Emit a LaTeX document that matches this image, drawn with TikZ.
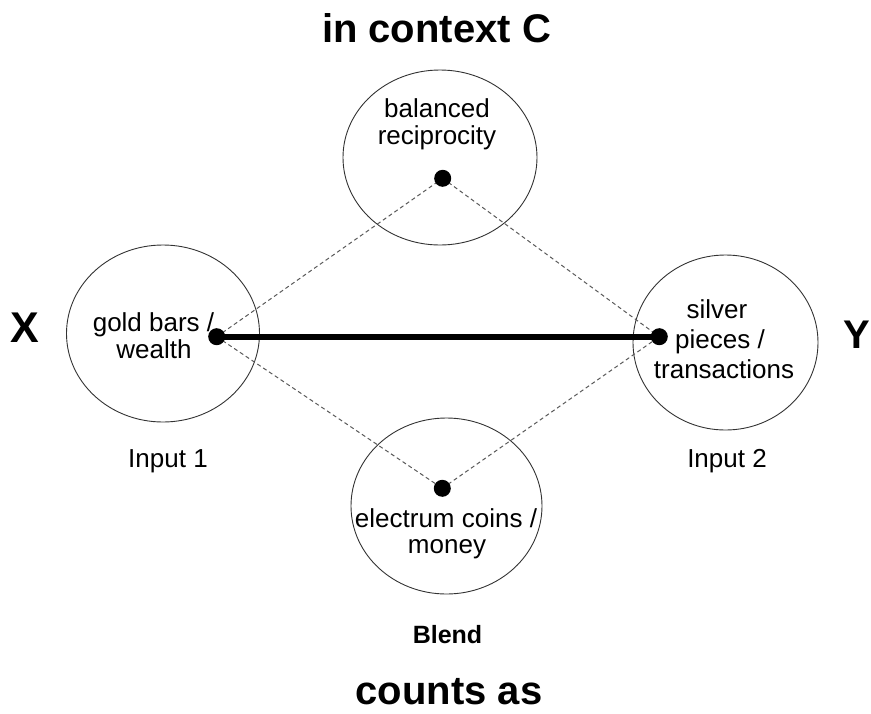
\documentclass[tikz,border=0pt]{standalone}
\usepackage{fontspec}
\setmainfont{Liberation Sans}
\usetikzlibrary{shapes.geometric}
\tikzset{
  blob/.style={draw=black!80, line width=0.9pt, ellipse, inner sep=0pt},
  dotnode/.style={circle, fill=black, minimum size=17pt, inner sep=0pt},
  boldline/.style={line width=6pt},
  dashline/.style={draw=black!65, line width=1pt, dash pattern=on 4pt off 3pt},
  lbl/.style={font=\fontsize{26}{30}\selectfont, anchor=base, inner sep=0pt},
  bigbold/.style={font=\fontsize{40}{44}\selectfont\bfseries, anchor=base, inner sep=0pt},
  midbold/.style={font=\fontsize{25}{28}\selectfont\bfseries, anchor=base, inner sep=0pt}
}
\begin{document}
\begin{tikzpicture}[x=1pt, y=-1pt]
\useasboundingbox (0,0) rectangle (871,713);
% ellipses
\node[blob, minimum width=193pt, minimum height=177pt] (L) at (163,333.5) {};
\node[blob, minimum width=194pt, minimum height=175pt] (T) at (440,157.5) {};
\node[blob, minimum width=185pt, minimum height=175pt] (R) at (725.5,342.5) {};
\node[blob, minimum width=191pt, minimum height=176pt] (B) at (446.5,506) {};
% connection points
\coordinate (pL) at (216.7,336.7);
\coordinate (pT) at (442.7,178.3);
\coordinate (pR) at (659.3,336.7);
\coordinate (pB) at (442.3,488.3);
% connectors
\draw[dashline] (pL) -- (pT);
\draw[dashline] (pT) -- (pR);
\draw[dashline] (pL) -- (pB);
\draw[dashline] (pB) -- (pR);
\draw[boldline] (pL) -- (pR);
% dots
\node[dotnode] (dL) at (pL) {};
\node[dotnode] (dT) at (pT) {};
\node[dotnode] (dR) at (pR) {};
\node[dotnode] (dB) at (pB) {};
% texts in ellipses
\node[lbl] (gold1) at (153.5,331) {gold bars /};
\node[lbl] (gold2) at (154,358) {wealth};
\node[lbl] (bal1) at (437,117) {balanced};
\node[lbl] (bal2) at (437,144) {reciprocity};
\node[lbl] (sil1) at (717,318) {silver};
\node[lbl] (sil2) at (720,348) {pieces /};
\node[lbl] (sil3) at (724,378) {transactions};
\node[lbl] (ele1) at (446,527) {electrum coins /};
\node[lbl] (ele2) at (447,553) {money};
% outer labels
\node[lbl] (in1) at (168,467) {Input 1};
\node[lbl] (in2) at (727,467) {Input 2};
\node[midbold] (blend) at (447.5,643) {Blend};
\node[bigbold] (title) at (436.5,42) {in context C};
\node[bigbold] (counts) at (449,704) {counts as};
\node[bigbold, font=\fontsize{43}{46}\selectfont\bfseries] (X) at (24.5,342) {X};
\node[bigbold] (Y) at (856.5,348) {Y};
\end{tikzpicture}
\end{document}
